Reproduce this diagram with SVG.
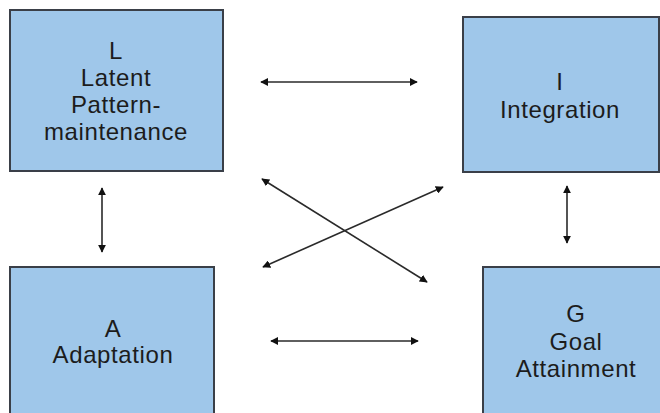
<svg xmlns="http://www.w3.org/2000/svg" width="660" height="413" viewBox="0 0 660 413">
<style>
.box{fill:#9fc7ea;stroke:#3a3f48;stroke-width:2}
.t{font-family:"Liberation Sans",Arial,sans-serif;font-size:24px;letter-spacing:0.6px;fill:#1c1c1c;text-anchor:middle}
.c{stroke:#2a2a2a;stroke-width:1.6;fill:none;marker-start:url(#ah);marker-end:url(#ah)}
</style>
<defs>
<marker id="ah" viewBox="0 0 10 10" refX="9" refY="5" markerWidth="8" markerHeight="8" markerUnits="userSpaceOnUse" orient="auto-start-reverse">
<path d="M0,0 L10,5 L0,10 z" fill="#111"/>
</marker>
</defs>
<rect width="660" height="413" fill="#fff"/>
<g id="nodeL">
<rect class="box" x="10" y="10" width="213" height="161"/>
<text class="t" x="116" y="59">L</text>
<text class="t" x="116" y="86">Latent</text>
<text class="t" x="116" y="113">Pattern-</text>
<text class="t" x="116" y="140">maintenance</text>
</g>
<g id="nodeI">
<rect class="box" x="463" y="17" width="196" height="155"/>
<text class="t" x="560" y="90">I</text>
<text class="t" x="560" y="118">Integration</text>
</g>
<g id="nodeA">
<rect class="box" x="10" y="267" width="204" height="150"/>
<text class="t" x="113" y="337">A</text>
<text class="t" x="113" y="363">Adaptation</text>
</g>
<g id="nodeG">
<rect class="box" x="483" y="267" width="180" height="150"/>
<text class="t" x="576" y="322">G</text>
<text class="t" x="576" y="350">Goal</text>
<text class="t" x="576" y="377">Attainment</text>
</g>
<g id="connectors">
<line class="c" x1="261" y1="82" x2="417" y2="82"/>
<line class="c" x1="271" y1="341" x2="418" y2="341"/>
<line class="c" x1="102" y1="188" x2="102" y2="252"/>
<line class="c" x1="567" y1="186" x2="567" y2="243"/>
<line class="c" x1="262" y1="179" x2="427" y2="282"/>
<line class="c" x1="443" y1="187" x2="263" y2="267"/>
</g>
</svg>
